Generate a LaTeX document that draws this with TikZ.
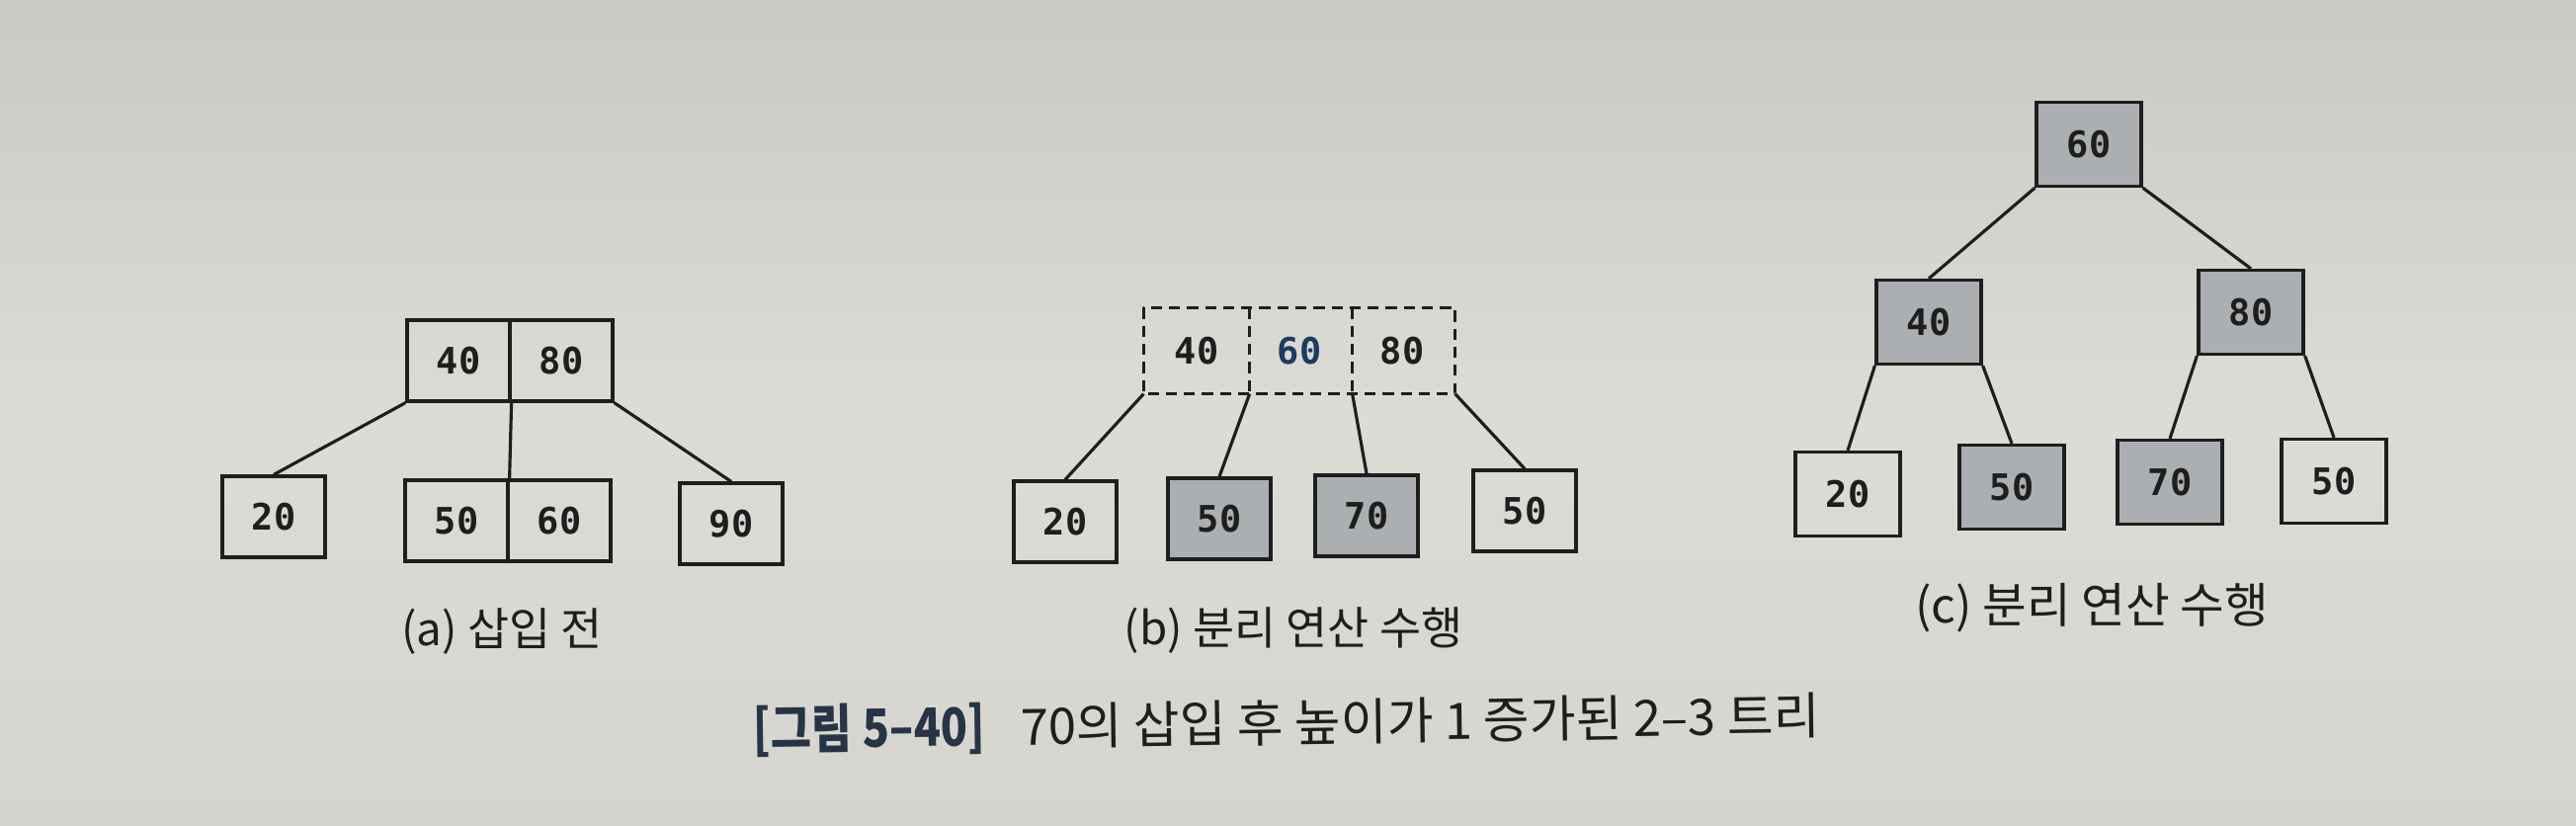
\documentclass[tikz,border=0pt]{standalone}
\usepackage{fontspec}
\setmainfont{Noto Sans CJK KR}
\newfontfamily\digitfont{DejaVu Sans Mono}
\newfontfamily\krfont{Noto Sans CJK KR}
\definecolor{bgmid}{RGB}{221,219,214}
\definecolor{bgtop}{RGB}{203,201,196}
\definecolor{bgbot}{RGB}{214,212,207}
\definecolor{boxgray}{RGB}{172,175,177}
\definecolor{ink}{RGB}{30,30,30}
\definecolor{blueink}{RGB}{28,58,98}
\definecolor{capblue}{RGB}{40,52,70}
\tikzset{
  cell/.style={draw=ink, line width=0.9pt, minimum width=1.04cm, minimum height=0.82cm,
    inner sep=0pt, font=\digitfont\bfseries\fontsize{10.5}{12}\selectfont, text=ink},
  gcell/.style={cell, fill=boxgray},
  ccell/.style={cell, minimum width=1.06cm, minimum height=0.85cm},
  gccell/.style={ccell, fill=boxgray},
  dcell/.style={cell, draw=none, minimum height=0.84cm},
  link/.style={draw=ink, line width=0.9pt},
  dashbox/.style={draw=ink, line width=0.9pt, dash pattern={on 3.2pt off 2pt}},
  captext/.style={font=\krfont\fontsize{13}{15}\selectfont, text=ink, inner sep=0pt}
}
\begin{document}
\begin{tikzpicture}[x=0.01cm, y=-0.01cm]
\useasboundingbox (0,0) rectangle (2607,835);
\shade[top color=bgtop, bottom color=bgbot, middle color=bgmid] (0,0) rectangle (2607,835);

% ---------- (a) ----------
\node[cell] (a40) at (464,365) {40};
\node[cell] (a80) at (568,365) {80};
\node[cell] (a20) at (277,523) {20};
\node[cell] (a50) at (462,527) {50};
\node[cell] (a60) at (566,527) {60};
\node[cell] (a90) at (740,530) {90};
\draw[link] (a40.south west) -- (a20.north);
\draw[link] (a40.south east) -- (a50.north east);
\draw[link] (a80.south east) -- (a90.north);
\node[captext] (capa) at (508,639) {(a) 삽입 전};

% ---------- (b) ----------
\node[dcell] (b40) at (1211,355) {40};
\node[dcell, text=blueink] (b60) at (1315,355) {60};
\node[dcell] (b80) at (1419,355) {80};
\draw[dashbox] (b40.north west) rectangle (b80.south east);
\draw[dashbox] (b40.north east) -- (b40.south east);
\draw[dashbox] (b60.north east) -- (b60.south east);
\node[cell] (b20) at (1078,528) {20};
\node[gcell] (b50) at (1234,525) {50};
\node[gcell] (b70) at (1383,522) {70};
\node[cell] (b50w) at (1543,517) {50};
\draw[link] (b40.south west) -- (b20.north);
\draw[link] (b40.south east) -- (b50.north);
\draw[link] (b60.south east) -- (b70.north);
\draw[link] (b80.south east) -- (b50w.north);
\node[captext] (capb) at (1309,638) {(b) 분리 연산 수행};

% ---------- (c) ----------
\node[gccell] (c60) at (2114,146) {60};
\node[gccell] (c40) at (1952,326) {40};
\node[gccell] (c80) at (2278,316) {80};
\node[ccell] (c20) at (1870,500) {20};
\node[gccell] (c50) at (2036,493) {50};
\node[gccell] (c70) at (2196,488) {70};
\node[ccell] (c50w) at (2362,487) {50};
\draw[link] (c60.south west) -- (c40.north);
\draw[link] (c60.south east) -- (c80.north);
\draw[link] (c40.south west) -- (c20.north);
\draw[link] (c40.south east) -- (c50.north);
\draw[link] (c80.south west) -- (c70.north);
\draw[link] (c80.south east) -- (c50w.north);
\node[captext, font=\krfont\fontsize{13.8}{16}\selectfont] (capc) at (2117,615) {(c) 분리 연산 수행};

% ---------- main caption ----------
\node[anchor=west, inner sep=0pt, text=ink, rotate=0.8, font=\krfont\fontsize{14.45}{16}\selectfont] (main) at (762,740)
  {\textcolor{capblue}{\scalebox{0.88}[1.05]{\bfseries [그림 5–40]}}\hspace{0.7em}70의 삽입 후 높이가 1 증가된 2–3 트리};
\end{tikzpicture}
\end{document}
